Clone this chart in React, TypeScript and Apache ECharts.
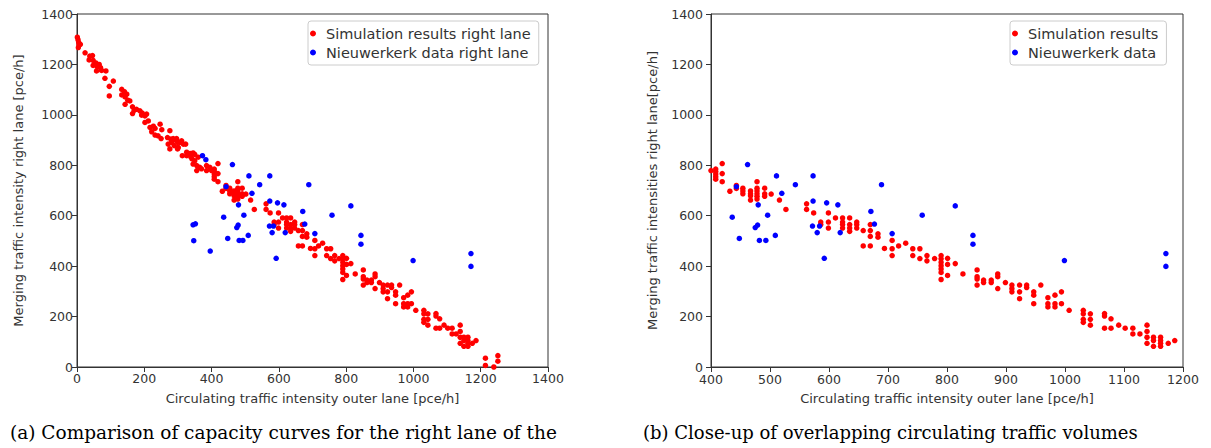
import React, { useEffect, useRef } from 'react';
import * as echarts from 'echarts';

// [circulating intensity outer lane, merging intensity right lane] in pce/h
const simulationResults: [number, number][] = [
  [1, 1308], [3, 1298], [5, 1287], [6, 1277], [4, 1267], [10, 1280], [24, 1246], [38, 1233], [46, 1235],
  [36, 1218], [48, 1216], [56, 1206], [66, 1200], [48, 1196], [60, 1191], [70, 1187], [58, 1174],
  [73, 1176], [86, 1174], [83, 1145], [108, 1134], [96, 1113], [96, 1075], [133, 1101], [141, 1092],
  [148, 1082], [133, 1079], [143, 1071], [151, 1058], [143, 1042], [157, 1055], [165, 1032], [170, 1018],
  [165, 1005], [177, 1022], [187, 1016], [194, 1007], [202, 996], [192, 999], [207, 1003], [202, 970],
  [212, 976], [217, 950], [227, 955], [232, 946], [222, 933], [247, 963], [252, 941], [232, 920],
  [241, 917], [250, 906], [276, 937], [269, 910], [279, 904], [286, 906], [291, 901], [296, 906],
  [299, 891], [306, 891], [311, 897], [316, 884], [281, 891], [271, 884], [289, 878], [301, 871],
  [323, 884], [276, 865], [299, 865], [326, 852], [336, 847], [345, 849], [350, 843], [313, 838],
  [326, 838], [339, 832], [342, 825], [350, 818], [360, 832], [345, 805], [356, 799], [365, 792],
  [356, 779], [370, 786], [385, 799], [395, 792], [400, 779], [385, 779],
  [408, 785], [408, 775], [408, 765], [408, 755], [408, 745], [419, 807], [419, 767], [419, 735],
  [432, 697], [443, 720], [443, 708], [454, 709], [454, 698], [454, 687], [467, 698], [467, 687],
  [467, 679], [467, 662], [478, 735], [478, 709], [478, 698], [478, 687], [478, 677], [478, 666],
  [491, 709], [491, 687], [491, 677], [502, 686], [516, 662], [527, 625], [562, 647], [562, 625],
  [574, 611], [586, 575], [586, 565], [599, 611], [599, 575], [599, 551], [611, 591], [623, 591],
  [623, 575], [623, 565], [623, 551], [635, 591], [635, 565], [635, 551], [635, 538], [647, 575],
  [647, 565], [647, 551], [658, 541], [658, 480], [670, 565], [670, 541], [670, 518], [670, 480],
  [683, 528], [683, 515], [694, 470], [707, 502], [707, 469], [707, 442], [718, 480], [730, 491],
  [742, 469], [742, 442], [754, 469], [754, 430], [766, 442], [766, 421], [779, 430], [790, 442],
  [790, 429], [790, 415], [790, 402], [790, 389], [790, 375], [790, 347], [801, 431], [801, 407],
  [801, 363], [814, 410], [827, 369], [851, 385], [851, 358], [851, 349], [851, 325], [862, 345],
  [862, 335], [875, 345], [875, 335], [886, 369], [886, 358], [886, 311], [899, 335], [910, 325],
  [910, 311], [910, 298], [923, 325], [923, 298], [923, 271], [935, 325], [935, 315], [947, 298],
  [947, 285], [947, 251], [959, 325], [971, 275], [971, 251], [971, 238], [983, 285], [983, 251],
  [983, 238], [994, 298], [994, 251], [1007, 225], [1031, 225], [1031, 211], [1031, 189], [1031, 177],
  [1043, 211], [1043, 189], [1043, 166], [1067, 212], [1067, 202], [1067, 154], [1078, 191], [1078, 154],
  [1091, 166], [1102, 154], [1115, 154], [1115, 131], [1127, 131], [1139, 166], [1139, 141], [1139, 118],
  [1139, 94], [1150, 118], [1150, 105], [1150, 82], [1162, 118], [1162, 105], [1162, 94], [1162, 82],
  [1175, 94], [1186, 105], [1214, 35], [1214, 6], [1239, 0], [1251, 45], [1251, 23],
];

const nieuwerkerkData: [number, number][] = [
  [347, 501], [345, 564], [352, 568], [373, 838], [383, 822], [396, 460], [436, 594], [443, 715],
  [448, 510], [462, 803], [475, 553], [479, 563], [480, 643], [482, 502], [493, 502], [496, 602],
  [509, 522], [511, 758], [520, 689], [543, 723], [572, 559], [573, 758], [573, 658], [580, 533],
  [584, 559], [592, 431], [596, 651], [615, 643], [619, 533], [671, 617], [677, 567], [689, 723],
  [707, 529], [758, 602], [814, 639], [844, 522], [844, 487], [999, 422], [1171, 450], [1171, 399],
];

const leftNames = ['Simulation results right lane', 'Nieuwerkerk data right lane'];
const rightNames = ['Simulation results', 'Nieuwerkerk data'];
const xLabel = 'Circulating traffic intensity outer lane [pce/h]';
const yLabelLeft = 'Merging traffic intensity right lane [pce/h]';
const yLabelRight = 'Merging traffic intensities right lane[pce/h]';
const captionA = '(a) Comparison of capacity curves for the right lane of the';
const captionB = '(b) Close-up of overlapping circulating traffic volumes';

const AX = '#333';
const FONT = 'DejaVu Sans';

function axisBase(labelMargin: number) {
  return {
    axisLine: { show: true, onZero: false, lineStyle: { color: AX, width: 1 } },
    axisTick: { show: true, length: 5, lineStyle: { color: AX, width: 1 } },
    axisLabel: { color: AX, fontSize: 12.5, fontFamily: FONT, margin: labelMargin, formatter: (v: number) => String(v) },
    splitLine: { show: false },
    nameLocation: 'middle' as const,
    nameTextStyle: { color: AX, fontSize: 13, fontFamily: FONT },
  };
}

function legendBase(left: number, data: string[]) {
  return {
    orient: 'vertical' as const,
    left,
    top: 21,
    data,
    icon: 'circle',
    itemWidth: 16,
    itemHeight: 6,
    itemGap: 4,
    padding: [5, 8, 5, 2],
    borderColor: '#ccc',
    borderWidth: 1,
    borderRadius: 3,
    backgroundColor: '#fff',
    textStyle: { color: AX, fontSize: 14.5, fontFamily: FONT },
  };
}

export default function App() {
  const ref = useRef<HTMLDivElement>(null);
  useEffect(() => {
    const chart = echarts.init(ref.current!, null, { renderer: 'svg' });
    chart.setOption({
      animation: false,
      backgroundColor: '#fff',
      grid: [
        { left: 77, top: 14, width: 471, height: 353, show: true, borderColor: AX, borderWidth: 1 },
        { left: 711, top: 14, width: 472, height: 353, show: true, borderColor: AX, borderWidth: 1 },
      ],
      xAxis: [
        { ...axisBase(5), gridIndex: 0, type: 'value', min: 0, max: 1400, interval: 200, name: xLabel, nameGap: 25 },
        { ...axisBase(6), gridIndex: 1, type: 'value', min: 400, max: 1200, interval: 100, name: xLabel, nameGap: 25 },
      ],
      yAxis: [
        { ...axisBase(4), gridIndex: 0, type: 'value', min: 0, max: 1400, interval: 200, name: yLabelLeft, nameGap: 52 },
        { ...axisBase(8), gridIndex: 1, type: 'value', min: 0, max: 1400, interval: 200, name: yLabelRight, nameGap: 52 },
      ],
      legend: [legendBase(308, leftNames), legendBase(1010, rightNames)],
      series: [
        { name: leftNames[0], type: 'scatter', xAxisIndex: 0, yAxisIndex: 0, data: simulationResults, symbolSize: 5.5, itemStyle: { color: '#ff0000', opacity: 1 } },
        { name: leftNames[1], type: 'scatter', xAxisIndex: 0, yAxisIndex: 0, data: nieuwerkerkData, symbolSize: 5.5, itemStyle: { color: '#0000ff', opacity: 1 } },
        { name: rightNames[0], type: 'scatter', xAxisIndex: 1, yAxisIndex: 1, data: simulationResults, symbolSize: 5.5, clip: true, itemStyle: { color: '#ff0000', opacity: 1 } },
        { name: rightNames[1], type: 'scatter', xAxisIndex: 1, yAxisIndex: 1, data: nieuwerkerkData, symbolSize: 5.5, clip: true, itemStyle: { color: '#0000ff', opacity: 1 } },
      ],
      graphic: [
        { type: 'text', left: 10, top: 423, style: { text: captionA, font: '18.5px "DejaVu Serif"', fill: '#000' } },
        { type: 'text', left: 643, top: 423, style: { text: captionB, font: '18px "DejaVu Serif"', fill: '#000' } },
      ],
    });
    return () => chart.dispose();
  }, []);
  return (
    <div
      ref={ref}
      style={{ position: 'fixed', left: 0, top: 0, width: 1211, height: 448, background: '#fff' }}
    />
  );
}
